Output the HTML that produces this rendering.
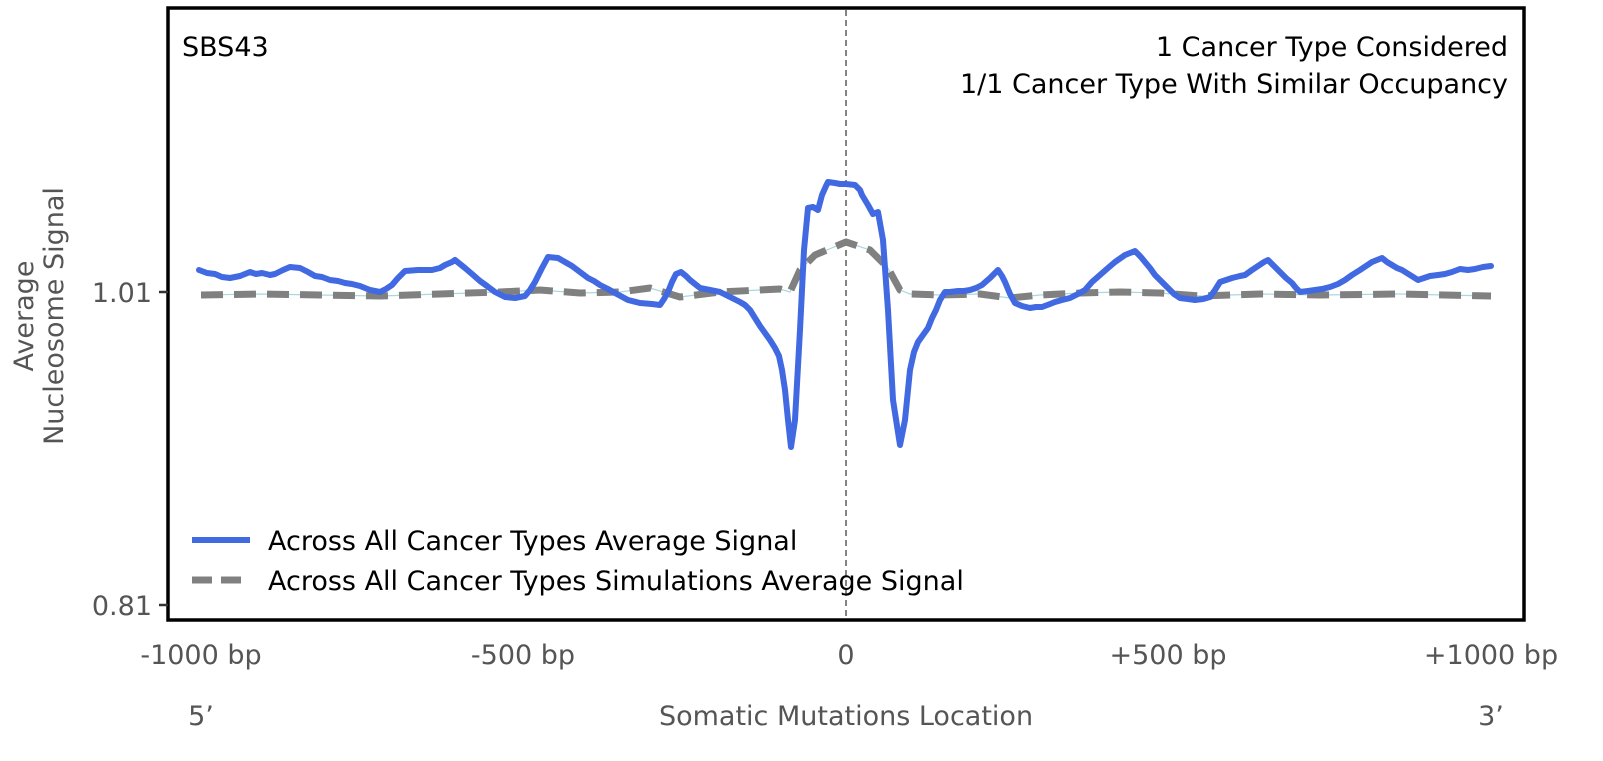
<!DOCTYPE html>
<html><head><meta charset="utf-8"><style>
html,body{margin:0;padding:0;background:#fff;}
svg text{font-family:"DejaVu Sans","Liberation Sans",sans-serif;}
</style></head><body>
<svg width="1603" height="756" viewBox="0 0 1603 756" xmlns="http://www.w3.org/2000/svg">
<rect width="1603" height="756" fill="#fff"/>
<line x1="846" y1="10" x2="846" y2="618" stroke="#777" stroke-width="1.8" stroke-dasharray="6,4"/>
<polyline fill="none" stroke="#a8d8e0" stroke-width="1.2" points="201,295 260,294 320,295 380,296 440,294 500,292 540,290 580,293 620,292 650,288 680,297 720,292 760,290 780,289 790,292 800,270 815,255 846,242 870,250 888,268 900,290 910,294 940,295 980,294 1010,298 1040,295 1080,293 1120,292 1160,293 1200,296 1260,294 1320,295 1400,294 1491,296"/>
<polyline fill="none" stroke="#808080" stroke-width="7" stroke-dasharray="22,11" stroke-linejoin="round" points="201,295 260,294 320,295 380,296 440,294 500,292 540,290 580,293 620,292 650,288 680,297 720,292 760,290 780,289 790,292 800,270 815,255 846,242 870,250 888,268 900,290 910,294 940,295 980,294 1010,298 1040,295 1080,293 1120,292 1160,293 1200,296 1260,294 1320,295 1400,294 1491,296"/>
<polyline fill="none" stroke="#4169e1" stroke-width="6" stroke-linejoin="round" stroke-linecap="round" points="199,270 207,273 215,274 222,277 230,278 240,276 250,272 256,274 262,273 270,275 275,274 283,270 290,267 300,268 308,272 315,276 322,277 330,280 338,281 345,283 352,284 360,286 370,290 380,292 386,289 392,285 398,278 405,271 418,270 432,270 440,268 445,265 452,262 455,260 460,264 465,268 472,274 480,281 487,286 495,292 505,297 515,298 525,296 530,290 535,282 542,268 548,257 558,258 565,262 572,266 580,272 588,278 594,281 600,285 608,289 615,293 628,300 640,303 652,304 660,305 664,299 668,292 672,282 676,274 681,272 686,276 690,280 695,284 700,288 710,290 720,292 726,295 732,298 740,302 745,305 750,310 755,318 760,326 765,333 770,340 775,348 779,356 782,370 785,390 788,420 791,447 795,420 800,330 804,250 808,208 813,207 818,210 822,195 826,186 828,182 835,183 840,184 846,184 855,185 860,190 862,195 868,205 873,214 878,212 883,240 888,310 893,400 900,445 905,420 910,370 914,352 918,342 923,335 928,328 932,318 936,310 940,300 945,292 950,292 958,291 964,291 970,290 976,288 982,285 990,278 998,270 1002,276 1005,282 1010,294 1015,303 1022,306 1030,308 1036,307 1042,307 1050,304 1055,302 1062,300 1070,298 1078,294 1085,290 1092,282 1100,275 1108,268 1115,262 1125,255 1135,251 1140,256 1145,262 1150,268 1155,275 1162,282 1168,288 1174,294 1180,298 1188,299 1195,300 1203,299 1210,297 1215,290 1220,282 1226,280 1232,278 1240,276 1245,275 1252,270 1258,266 1264,262 1268,260 1274,266 1280,272 1286,278 1292,283 1296,288 1300,292 1308,291 1315,290 1322,289 1330,287 1338,284 1345,280 1352,275 1360,270 1366,266 1372,262 1377,260 1382,258 1387,262 1392,265 1397,268 1402,270 1410,275 1418,280 1424,278 1430,276 1438,275 1445,274 1452,272 1460,269 1468,270 1475,269 1483,267 1491,266"/>
<rect x="168" y="8" width="1356" height="612" fill="none" stroke="#000" stroke-width="3.5"/>
<line x1="159" y1="292" x2="168" y2="292" stroke="#333" stroke-width="2.5"/>
<line x1="159" y1="605" x2="168" y2="605" stroke="#333" stroke-width="2.5"/>
<text x="152" y="302" font-size="27" fill="#555" text-anchor="end">1.01</text>
<text x="152" y="615" font-size="27" fill="#555" text-anchor="end">0.81</text>
<g font-size="27" fill="#555" text-anchor="middle">
<text x="201" y="664">-1000 bp</text>
<text x="523" y="664">-500 bp</text>
<text x="846" y="664">0</text>
<text x="1168" y="664">+500 bp</text>
<text x="1491" y="664">+1000 bp</text>
<text x="201" y="725">5’</text>
<text x="846" y="725">Somatic Mutations Location</text>
<text x="1491" y="725">3’</text>
</g>
<g font-size="27" fill="#555" text-anchor="middle">
<text transform="translate(33,316) rotate(-90)">Average</text>
<text transform="translate(63,316) rotate(-90)">Nucleosome Signal</text>
</g>
<text x="182" y="56" font-size="27" fill="#000">SBS43</text>
<text x="1508" y="56" font-size="27" fill="#000" text-anchor="end">1 Cancer Type Considered</text>
<text x="1508" y="93" font-size="27" fill="#000" text-anchor="end">1/1 Cancer Type With Similar Occupancy</text>
<line x1="192" y1="540" x2="250" y2="540" stroke="#4169e1" stroke-width="6"/>
<text x="268" y="550" font-size="27" fill="#000">Across All Cancer Types Average Signal</text>
<line x1="192" y1="580" x2="250" y2="580" stroke="#808080" stroke-width="7" stroke-dasharray="20,9"/>
<text x="268" y="590" font-size="27" fill="#000">Across All Cancer Types Simulations Average Signal</text>
</svg>
</body></html>
